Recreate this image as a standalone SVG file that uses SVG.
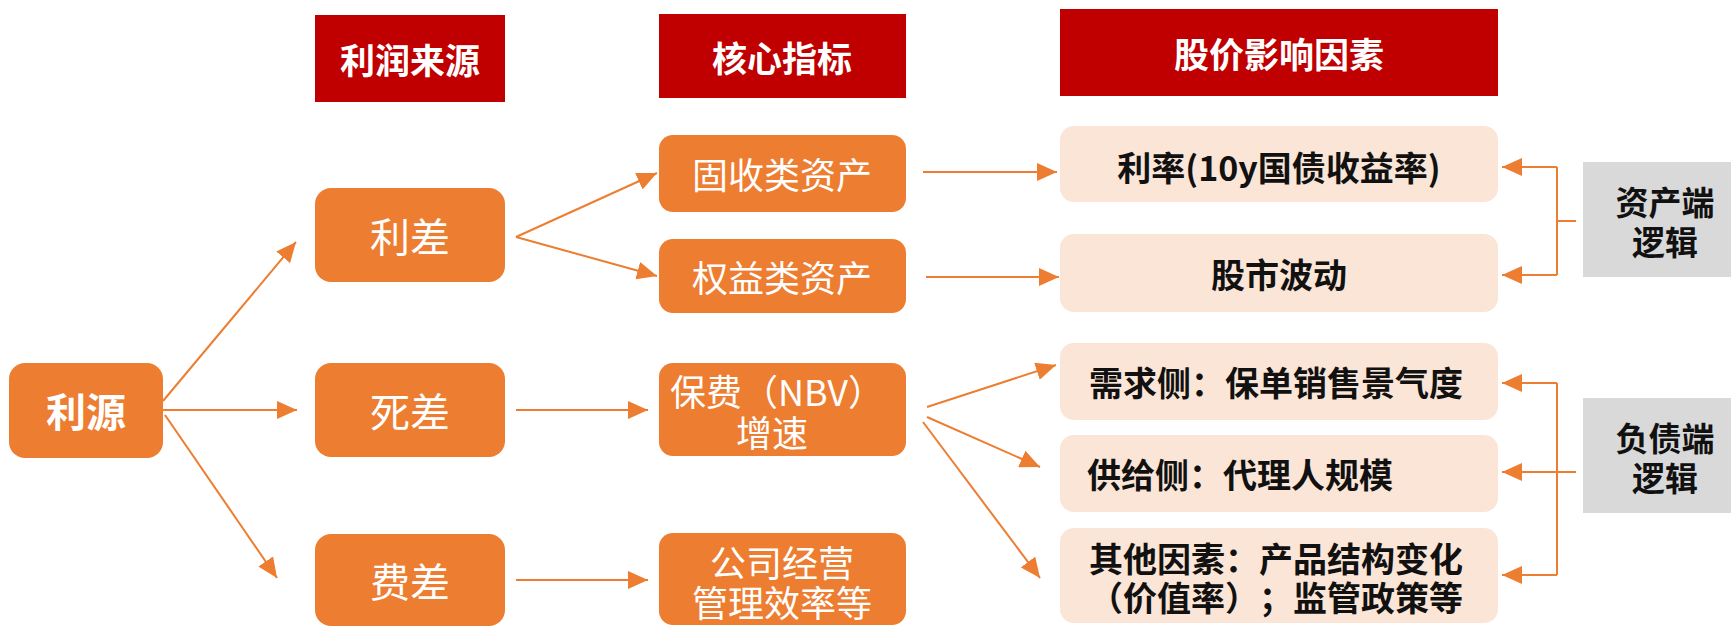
<svg xmlns="http://www.w3.org/2000/svg" width="1731" height="627" viewBox="0 0 1731 627">
<style>
text{font-family:"Noto Sans CJK SC","Microsoft YaHei",sans-serif;dominant-baseline:central;text-spacing-trim:space-all}
.hdr rect{fill:#C00000}
.hdr text{fill:#fff;font-size:35px;font-weight:bold;text-anchor:middle}
.org rect{fill:#ED7D31}
.org text{fill:#fff;text-anchor:middle}
.c2 text{font-size:40px}
.c3 text{font-size:36px}
.fac rect{fill:#FBE5D6}
.fac text{fill:#111;font-size:34px;font-weight:bold}
.gry rect{fill:#D9D9D9}
.gry text{fill:#111;font-size:33px;font-weight:bold;text-anchor:middle}
.conn path,.conn line{stroke:#ED7D31;stroke-width:2;fill:none}
</style>
<defs>
<marker id="ah" markerUnits="userSpaceOnUse" markerWidth="20" markerHeight="18" refX="20" refY="9" orient="auto" viewBox="0 0 20 18">
<path d="M0,0 L20,9 L0,18 z" fill="#ED7D31"/>
</marker>
</defs>
<rect width="1731" height="627" fill="#fff"/>

<g id="hdr-profit" class="hdr"><rect x="315" y="15" width="190" height="87"/><text x="410" y="58">利润来源</text></g>
<g id="hdr-core" class="hdr"><rect x="659" y="14" width="247" height="84"/><text x="782" y="56">核心指标</text></g>
<g id="hdr-price" class="hdr"><rect x="1060" y="9" width="438" height="87"/><text x="1279" y="52">股价影响因素</text></g>

<g id="n-liyuan" class="org"><rect x="9" y="363" width="154" height="95" rx="16"/><text x="86" y="410" font-size="40" font-weight="bold">利源</text></g>

<g id="n-licha" class="org c2"><rect x="315" y="188" width="190" height="94" rx="16"/><text x="410" y="235">利差</text></g>
<g id="n-sicha" class="org c2"><rect x="315" y="363" width="190" height="94" rx="16"/><text x="410" y="410">死差</text></g>
<g id="n-feicha" class="org c2"><rect x="315" y="534" width="190" height="92" rx="16"/><text x="410" y="580">费差</text></g>

<g id="n-gushou" class="org c3"><rect x="659" y="135" width="247" height="77" rx="14"/><text x="782" y="173">固收类资产</text></g>
<g id="n-quanyi" class="org c3"><rect x="659" y="239" width="247" height="74" rx="14"/><text x="782" y="276">权益类资产</text></g>
<g id="n-nbv" class="org c3"><rect x="659" y="363" width="247" height="93" rx="14"/><text><tspan x="777" y="390">保费（NBV）</tspan><tspan x="772" y="431">增速</tspan></text></g>
<g id="n-mgmt" class="org c3"><rect x="659" y="533" width="247" height="92" rx="14"/><text><tspan x="782" y="561">公司经营</tspan><tspan x="782" y="601">管理效率等</tspan></text></g>

<g id="f-rate" class="fac"><rect x="1060" y="126" width="438" height="76" rx="14"/><text x="1279" y="166" text-anchor="middle">利率(10y国债收益率)</text></g>
<g id="f-stock" class="fac"><rect x="1060" y="234" width="438" height="78" rx="14"/><text x="1279" y="273" text-anchor="middle">股市波动</text></g>
<g id="f-demand" class="fac"><rect x="1060" y="343" width="438" height="77" rx="14"/><text x="1089" y="381">需求侧：保单销售景气度</text></g>
<g id="f-supply" class="fac"><rect x="1060" y="435" width="438" height="77" rx="14"/><text x="1087" y="473">供给侧：代理人规模</text></g>
<g id="f-other" class="fac"><rect x="1060" y="528" width="438" height="95" rx="14"/><text><tspan x="1089" y="557">其他因素：产品结构变化</tspan><tspan x="1089" y="596">（价值率）；监管政策等</tspan></text></g>

<g id="g-asset" class="gry"><rect x="1583" y="162" width="148" height="115"/><text><tspan x="1665" y="201">资产端</tspan><tspan x="1665" y="241">逻辑</tspan></text></g>
<g id="g-liab" class="gry"><rect x="1583" y="398" width="148" height="115"/><text><tspan x="1665" y="437">负债端</tspan><tspan x="1665" y="477">逻辑</tspan></text></g>

<g id="connectors" class="conn">
<line x1="163" y1="401" x2="296" y2="242" marker-end="url(#ah)"/>
<line x1="163" y1="410" x2="297" y2="410" marker-end="url(#ah)"/>
<line x1="165" y1="415" x2="277" y2="578" marker-end="url(#ah)"/>
<line x1="516" y1="237" x2="657" y2="173" marker-end="url(#ah)"/>
<line x1="516" y1="237" x2="657" y2="276" marker-end="url(#ah)"/>
<line x1="516" y1="410" x2="648" y2="410" marker-end="url(#ah)"/>
<line x1="516" y1="580" x2="648" y2="580" marker-end="url(#ah)"/>
<line x1="923" y1="172" x2="1057" y2="172" marker-end="url(#ah)"/>
<line x1="926" y1="277" x2="1059" y2="277" marker-end="url(#ah)"/>
<line x1="927" y1="407" x2="1056" y2="365" marker-end="url(#ah)"/>
<line x1="927" y1="417" x2="1040" y2="467" marker-end="url(#ah)"/>
<line x1="923" y1="422" x2="1040" y2="578" marker-end="url(#ah)"/>
<path d="M1557,167 V275 M1557,221 H1576"/>
<line x1="1557" y1="167" x2="1502" y2="167" marker-end="url(#ah)"/>
<line x1="1557" y1="275" x2="1502" y2="275" marker-end="url(#ah)"/>
<path d="M1557,383 V575 M1557,472 H1576"/>
<line x1="1557" y1="383" x2="1502" y2="383" marker-end="url(#ah)"/>
<line x1="1557" y1="472" x2="1502" y2="472" marker-end="url(#ah)"/>
<line x1="1557" y1="575" x2="1502" y2="575" marker-end="url(#ah)"/>
</g>
</svg>
